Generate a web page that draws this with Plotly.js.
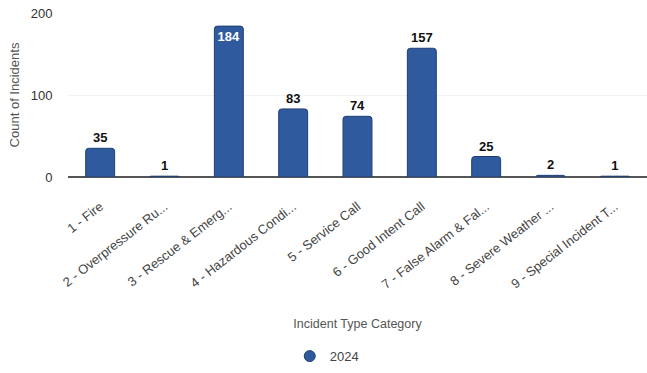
<!DOCTYPE html>
<html><head><meta charset="utf-8">
<script src="https://cdn.plot.ly/plotly-3.0.1.min.js"></script>
<style>html,body{margin:0;padding:0;background:#fff}</style>
</head><body><div id="chart" style="width:647px;height:373px"></div>
<script>
const categories = ["1 - Fire","2 - Overpressure Ru...","3 - Rescue & Emerg...","4 - Hazardous Condi...","5 - Service Call","6 - Good Intent Call","7 - False Alarm & Fal...","8 - Severe Weather ...","9 - Special Incident T..."];
const counts2024 = [35,1,184,83,74,157,25,2,1];
const seriesName = "2024";
const yTicks = [0,100,200];

const barColor = "#2f5b9e";
const traces = [
  {type:"bar", x:categories, y:counts2024, name:seriesName, showlegend:false,
   width:0.45,
   marker:{color:barColor, line:{color:"#1f3f73", width:1}, cornerradius:3},
   text:counts2024.map(String),
   textposition:counts2024.map(v=>v>180?"inside":"outside"),
   insidetextanchor:"end",
   textangle:0,
   textfont:{family:"Liberation Sans, Arial, sans-serif", size:13, weight:"bold", color:counts2024.map(v=>v>180?"#ffffff":"#111111")},
   cliponaxis:false},
  {type:"scatter", mode:"markers", x:[null], y:[null], name:seriesName,
   marker:{symbol:"circle", size:11, color:barColor, line:{color:"#1f3f73",width:1}}}
];
const layout = {
  width:647, height:373,
  margin:{l:68, r:0, t:13, b:196},
  paper_bgcolor:"#fff", plot_bgcolor:"#fff",
  font:{family:"Liberation Sans, Arial, sans-serif", color:"#444"},
  xaxis:{type:"category", tickangle:-38, tickfont:{size:13, color:"#444"}, showgrid:false,
    showline:false, ticks:"outside", ticklen:16, tickcolor:"rgba(0,0,0,0)",
    title:{text:"Incident Type Category", font:{size:12.5, color:"#555"}, standoff:28}},
  yaxis:{range:[0,200], tickvals:yTicks, tickfont:{size:13, color:"#333"},
    showgrid:true, gridcolor:"#f2f2f2", zeroline:true, zerolinecolor:"#555", zerolinewidth:1.5,
    ticks:"outside", ticklen:12, tickcolor:"rgba(0,0,0,0)",
    title:{text:"Count of Incidents", font:{size:13, color:"#555"}, standoff:8}},
  legend:{orientation:"h", xref:"container", x:0.505, xanchor:"center", yref:"container", y:0.005, yanchor:"bottom", font:{size:13, color:"#444"}},
  showlegend:true
};
Plotly.newPlot("chart", traces, layout, {staticPlot:true, displayModeBar:false});
</script></body></html>
